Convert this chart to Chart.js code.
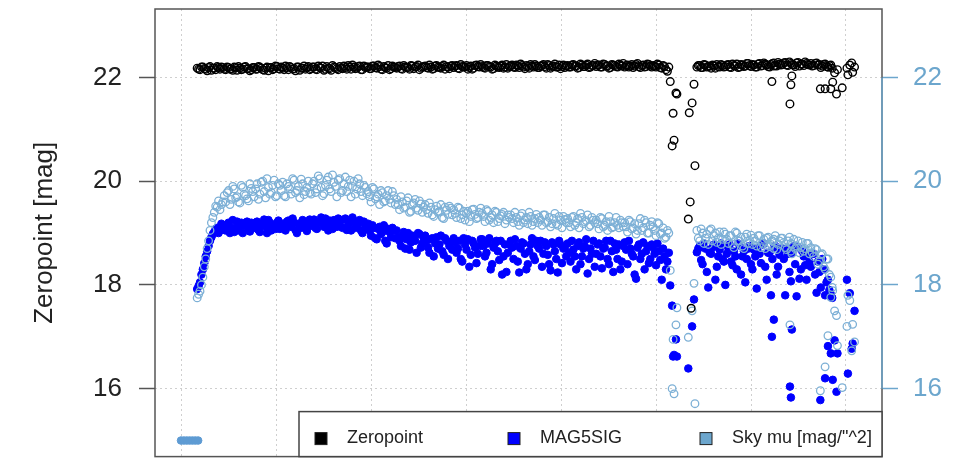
<!DOCTYPE html>
<html>
<head>
<meta charset="utf-8">
<script src="https://cdn.jsdelivr.net/npm/chart.js@4"></script>
<style>
  html, body { margin: 0; padding: 0; background: #fff; overflow: hidden; }
  #wrap { width: 971px; height: 458px; overflow: hidden; }
  #chart { display: block; }
</style>
</head>
<body>
<div id="wrap"><canvas id="chart" width="971" height="462"></canvas></div>
<script>
// observation positions (plot x units)
// blocks: main run, dip, second run, outliers, tail, then the interleaved frames of both runs
const obsX = [
  17,20,23,26,29,32,35,38,41,44, 47,50,53,56,59,62,65,68,71,74,
  77,80,83,86,89,92,95,98,101,104, 107,110,113,116,119,122,125,128,131,134,
  137,140,143,146,149,152,155,158,161,164, 167,170,173,176,179,182,185,188,191,194,
  197,200,203,206,209,212,215,218,221,224, 227,230,233,236,239,242,245,248,251,254,
  257,260,263,266,269,272,275,278,281,284, 287,290,293,296,299,302,305,308,311,314,
  317,320,323,326,329,332,335,338,341,344, 347,350,353,356,359,362,365,368,371,374,
  377,380,383,386,389,392,395,398,401,404, 407,410,413,416,419,422,425,428,431,434,
  437,440,443,446,449,452,455,458,461,464, 467,470,473,476,479,482,485,488,491,494,
  497,500,503,506,509,512,
  515,517,518,519,521,522,534,535,536,537,538,540,541,
  543,546,549,552,555,558,561,564,567,570, 573,576,579,582,585,588,591,594,597,600,
  603,606,609,612,615,618,621,624,627,630, 633,636,639,642,645,648,651,654,657,660,
  663,666,669,672,675,678,681,684,
  622,624,641,642,643,
  673,678,681,684,686,688,690,691,696,701,702,704,706,707,709,
  18.5,21.5,24.5,27.5,30.5,33.5,36.5,39.5,42.5,45.5, 48.5,51.5,54.5,57.5,60.5,63.5,66.5,69.5,72.5,75.5,
  78.5,81.5,84.5,87.5,90.5,93.5,96.5,99.5,102.5,105.5, 108.5,111.5,114.5,117.5,120.5,123.5,126.5,129.5,132.5,135.5,
  138.5,141.5,144.5,147.5,150.5,153.5,156.5,159.5,162.5,165.5, 168.5,171.5,174.5,177.5,180.5,183.5,186.5,189.5,192.5,195.5,
  198.5,201.5,204.5,207.5,210.5,213.5,216.5,219.5,222.5,225.5, 228.5,231.5,234.5,237.5,240.5,243.5,246.5,249.5,252.5,255.5,
  258.5,261.5,264.5,267.5,270.5,273.5,276.5,279.5,282.5,285.5, 288.5,291.5,294.5,297.5,300.5,303.5,306.5,309.5,312.5,315.5,
  318.5,321.5,324.5,327.5,330.5,333.5,336.5,339.5,342.5,345.5, 348.5,351.5,354.5,357.5,360.5,363.5,366.5,369.5,372.5,375.5,
  378.5,381.5,384.5,387.5,390.5,393.5,396.5,399.5,402.5,405.5, 408.5,411.5,414.5,417.5,420.5,423.5,426.5,429.5,432.5,435.5,
  438.5,441.5,444.5,447.5,450.5,453.5,456.5,459.5,462.5,465.5, 468.5,471.5,474.5,477.5,480.5,483.5,486.5,489.5,492.5,495.5,
  498.5,501.5,504.5,507.5,510.5,513.5,
  544.5,547.5,550.5,553.5,556.5,559.5,562.5,565.5,568.5,571.5, 574.5,577.5,580.5,583.5,586.5,589.5,592.5,595.5,598.5,601.5,
  604.5,607.5,610.5,613.5,616.5,619.5,622.5,625.5,628.5,631.5, 634.5,637.5,640.5,643.5,646.5,649.5,652.5,655.5,658.5,661.5,
  664.5,667.5,670.5,673.5,676.5,679.5,682.5,685.5
];

const zeropoint = [
  22.18,22.15,22.2,22.16,22.19,22.14,22.18,22.21,22.16,22.19, 22.15,22.19,22.17,22.2,22.14,22.18,22.16,22.21,22.17,22.15,
  22.19,22.16,22.2,22.15,22.18,22.13,22.19,22.17,22.21,22.16, 22.18,22.22,22.15,22.19,22.17,22.2,22.14,22.18,22.16,22.21,
  22.17,22.2,22.15,22.19,22.22,22.16,22.18,22.14,22.2,22.17, 22.21,22.17,22.19,22.23,22.16,22.2,22.18,22.22,22.15,22.19,
  22.2,22.17,22.22,22.18,22.21,22.15,22.19,22.23,22.17,22.2, 22.18,22.22,22.16,22.2,22.19,22.23,22.17,22.21,22.15,22.2,
  22.22,22.18,22.2,22.17,22.23,22.19,22.21,22.16,22.2,22.22, 22.19,22.23,22.17,22.21,22.2,22.16,22.22,22.18,22.24,22.2,
  22.21,22.18,22.23,22.2,22.17,22.22,22.19,22.24,22.2,22.18, 22.22,22.2,22.24,22.19,22.23,22.17,22.21,22.25,22.2,22.22,
  22.19,22.23,22.21,22.25,22.18,22.22,22.2,22.24,22.21,22.19, 22.23,22.2,22.25,22.22,22.19,22.24,22.21,22.26,22.2,22.23,
  22.21,22.24,22.2,22.25,22.22,22.19,22.24,22.21,22.26,22.22, 22.2,22.24,22.22,22.19,22.25,22.21,22.23,22.2,22.26,22.22,
  22.23,22.2,22.24,22.18,22.21,22.12,
  21.92,20.68,21.31,20.79,21.7,21.68,19.27,21.32,19.6,17.55,21.51,21.87,20.3,
  22.2,22.23,22.19,22.24,22.21,22.18,22.22,22.25,22.2,22.23, 22.21,22.25,22.19,22.23,22.26,22.2,22.24,22.22,22.27,22.21,
  22.24,22.2,22.27,22.23,22.26,22.21,22.25,22.28,22.22,22.26, 22.25,22.29,22.23,22.27,22.24,22.28,22.22,22.26,22.3,22.25,
  22.27,22.23,22.28,22.25,22.22,22.26,22.2,22.24,
  21.92,22.22,21.49,21.86,22.03,
  21.78,21.78,22.2,21.78,21.91,22.09,21.68,22.15,21.8,22.18,22.05,22.24,22.28,22.1,22.2,
  22.16,22.2,22.17,22.13,22.21,22.18,22.15,22.19,22.2,22.16, 22.2,22.16,22.14,22.19,22.21,22.15,22.2,22.17,22.13,22.19,
  22.16,22.21,22.18,22.14,22.2,22.19,22.15,22.22,22.17,22.2, 22.15,22.19,22.21,22.16,22.13,22.2,22.18,22.22,22.19,22.15,
  22.2,22.16,22.22,22.18,22.14,22.21,22.17,22.23,22.19,22.15, 22.18,22.22,22.16,22.2,22.24,22.17,22.21,22.15,22.22,22.2,
  22.17,22.22,22.19,22.24,22.16,22.21,22.18,22.15,22.22,22.19, 22.21,22.17,22.23,22.19,22.16,22.22,22.2,22.24,22.18,22.21,
  22.19,22.24,22.16,22.22,22.2,22.18,22.24,22.21,22.17,22.23, 22.22,22.18,22.25,22.2,22.23,22.19,22.16,22.23,22.21,22.25,
  22.19,22.23,22.21,22.16,22.24,22.2,22.22,22.18,22.25,22.21, 22.24,22.19,22.22,22.26,22.2,22.23,22.18,22.22,22.25,22.19,
  22.22,22.25,22.18,22.23,22.21,22.26,22.2,22.17,22.24,22.22, 22.2,22.24,22.22,22.18,22.26,22.21,22.24,22.19,22.23,22.27,
  22.24,22.2,22.26,22.22,22.18,22.25,22.23,22.2,22.24,22.27, 22.23,22.2,22.25,22.22,22.27,22.19,22.24,22.21,22.25,22.2,
  22.22,22.26,22.19,22.23,22.15,22.2,
  22.23,22.19,22.25,22.2,22.22,22.24,22.18,22.21,22.25,22.2, 22.24,22.2,22.26,22.22,22.19,22.25,22.21,22.27,22.23,22.25,
  22.2,22.26,22.22,22.28,22.24,22.2,22.27,22.23,22.29,22.24, 22.28,22.24,22.3,22.25,22.21,22.29,22.26,22.23,22.27,22.24,
  22.22,22.27,22.24,22.19,22.25,22.21,22.23,22.18
];

const mag5sig = [
  17.92,18.05,18.3,18.55,18.75,18.92,19.02,19.1,19.05,19.15, 19.05,19.2,19.1,19.02,19.22,19.12,19.0,19.18,19.08,19.2,
  19.1,19.22,19.02,19.18,19.12,19.25,19.05,19.16,19.2,19.08, 19.18,19.05,19.24,19.12,19.2,19.0,19.15,19.25,19.1,19.2,
  19.14,19.26,19.08,19.22,19.18,19.28,19.05,19.2,19.25,19.12, 19.24,19.1,19.28,19.15,19.05,19.22,19.12,19.25,19.0,19.15,
  19.18,18.95,19.1,18.88,19.12,19.02,18.85,19.08,18.92,19.05, 19.05,18.85,18.95,18.7,19.0,18.82,18.92,18.62,18.98,18.8,
  18.95,18.72,18.88,18.55,18.92,18.78,18.65,18.9,18.5,18.82, 18.9,18.62,18.85,18.45,18.78,18.88,18.58,18.8,18.42,18.75,
  18.88,18.55,18.8,18.3,18.72,18.85,18.48,18.2,18.78,18.62, 18.85,18.5,18.75,18.24,18.82,18.6,18.4,18.78,18.55,18.85,
  18.7,18.35,18.82,18.58,18.28,18.78,18.5,18.85,18.42,18.72, 18.8,18.45,18.68,18.3,18.82,18.55,18.75,18.22,18.7,18.85,
  18.6,18.8,18.32,18.72,18.5,18.85,18.25,18.68,18.78,18.45, 18.82,18.4,18.7,18.55,18.12,18.78,18.6,18.3,18.75,18.5,
  18.72,18.38,18.65,18.1,18.55,18.45,
  17.99,17.6,16.62,16.65,16.95,16.62,16.39,null,null,null,17.2,17.72,null,
  18.63,18.75,18.4,18.7,17.95,18.6,18.78,18.35,18.68,18.5, 18.0,18.72,18.45,18.65,18.3,18.76,18.55,18.05,18.7,18.4,
  18.68,17.93,18.6,18.78,18.35,18.62,17.8,18.72,18.2,18.58, 18.7,17.8,18.6,18.07,18.75,17.78,18.12,18.65,18.38,18.55,
  18.35,18.6,17.85,18.25,18.5,17.8,18.1,17.82,
  17.0,17.33,16.04,15.83,17.14,
  15.78,16.2,16.82,16.68,16.17,16.93,15.94,16.68,null,18.1,16.29,17.84,16.77,16.87,17.5,
  17.98,18.2,18.42,18.65,18.85,18.98,19.08,19.0,19.18,19.06, 19.15,19.0,19.25,19.1,19.05,19.2,19.14,19.22,19.03,19.16,
  19.2,19.06,19.14,19.26,19.0,19.2,19.12,19.08,19.24,19.15, 19.08,19.22,19.15,19.28,19.06,19.18,19.1,19.22,19.04,19.26,
  19.22,19.1,19.2,19.3,19.12,19.16,19.24,19.08,19.2,19.28, 19.12,19.26,19.06,19.2,19.3,19.1,19.18,19.05,19.22,19.08,
  19.05,19.15,18.9,19.08,18.98,19.15,18.8,19.02,19.1,18.9, 18.92,18.75,19.02,18.88,18.68,18.95,18.85,19.0,18.72,18.9,
  18.85,18.62,18.9,18.8,18.7,18.95,18.58,18.85,18.75,18.68, 18.82,18.7,18.5,18.9,18.68,18.35,18.85,18.72,18.6,18.88,
  18.75,18.62,18.9,18.4,18.8,18.65,18.85,18.55,18.25,18.78, 18.72,18.88,18.45,18.7,18.8,18.3,18.65,18.9,18.48,18.75,
  18.85,18.6,18.75,18.4,18.82,18.65,18.24,18.78,18.7,18.55, 18.62,18.85,18.55,18.75,18.4,18.7,18.88,18.5,18.6,18.35,
  18.78,18.55,18.7,18.85,18.4,18.65,18.8,18.5,18.3,18.75, 18.68,18.85,18.6,18.2,18.72,18.5,18.82,18.65,18.42,18.78,
  18.6,18.8,18.48,18.7,18.3,18.62,
  18.7,18.48,18.8,18.25,18.62,18.72,18.1,18.55,18.8,18.45, 18.6,18.78,18.38,18.55,18.8,18.2,18.65,18.5,18.75,18.3,
  18.55,18.72,18.42,18.8,18.1,18.62,18.5,18.75,18.35,18.68, 18.5,18.7,18.25,18.62,18.4,18.72,18.3,18.55,18.1,18.45,
  18.6,18.2,18.45,17.95,18.3,18.05,17.9,17.75
];

const skyMu = [
  17.75,17.88,18.15,18.5,18.85,19.2,19.4,19.5,19.45,19.6, 19.6,19.82,19.65,19.85,19.7,19.58,19.88,19.72,19.62,19.86,
  19.7,19.95,19.75,20.0,19.68,19.88,19.78,20.02,19.72,19.92, 19.98,19.7,19.9,19.75,20.02,19.82,19.68,19.95,19.8,20.0,
  19.75,20.0,19.85,20.05,19.72,19.92,20.08,19.8,19.98,19.7, 20.05,19.82,20.08,19.9,19.7,20.0,19.85,19.95,19.72,19.88,
  19.8,19.6,19.85,19.7,19.55,19.78,19.62,19.82,19.58,19.72, 19.65,19.45,19.6,19.5,19.68,19.42,19.58,19.48,19.62,19.4,
  19.55,19.38,19.5,19.32,19.52,19.42,19.3,19.5,19.36,19.48, 19.45,19.3,19.48,19.35,19.25,19.42,19.32,19.46,19.28,19.4,
  19.38,19.22,19.42,19.3,19.2,19.4,19.28,19.36,19.18,19.35, 19.35,19.2,19.3,19.15,19.38,19.25,19.18,19.32,19.22,19.36,
  19.3,19.15,19.35,19.22,19.12,19.28,19.18,19.32,19.1,19.26, 19.28,19.12,19.32,19.2,19.1,19.3,19.22,19.35,19.15,19.25,
  19.25,19.08,19.28,19.15,19.05,19.22,19.12,19.3,19.1,19.2, 19.2,19.02,19.22,19.1,18.98,19.18,19.05,19.25,19.0,19.15,
  19.12,18.95,19.18,19.0,18.9,19.05,
  18.28,16.0,16.95,15.9,17.23,17.56,16.99,null,null,null,17.5,18.03,15.71,
  19.05,18.85,19.0,18.9,18.78,19.08,18.95,18.82,19.02,18.88, 18.98,18.8,18.95,18.72,19.0,18.85,18.75,18.92,18.8,18.96,
  18.9,18.75,18.95,18.8,18.7,18.92,18.78,18.88,18.68,18.85, 18.9,18.72,18.85,18.65,18.88,18.75,18.62,18.82,18.7,18.8,
  18.72,18.55,18.68,18.45,18.6,18.3,18.5,18.15,
  18.85,18.7,17.23,18.8,18.6,
  15.96,16.42,17.02,17.76,17.89,17.5,17.41,16.83,16.02,17.2,17.8,17.7,16.73,17.24,16.9,
  17.82,18.0,18.35,18.7,19.05,19.3,19.52,19.62,19.55,19.72, 19.78,19.55,19.9,19.68,19.6,19.92,19.75,19.66,19.95,19.8,
  19.85,19.65,19.98,19.8,20.05,19.75,19.92,19.7,19.95,19.82, 19.72,19.95,19.85,20.05,19.78,19.9,20.04,19.74,19.88,19.78,
  19.95,19.78,20.1,19.88,19.76,20.02,19.85,20.12,19.9,20.02, 19.78,19.95,19.8,20.02,19.9,19.75,20.05,19.8,19.92,19.76,
  19.7,19.88,19.66,19.75,19.82,19.6,19.72,19.65,19.8,19.55, 19.55,19.7,19.48,19.62,19.4,19.55,19.65,19.44,19.56,19.5,
  19.45,19.58,19.35,19.45,19.4,19.55,19.28,19.44,19.52,19.35, 19.38,19.5,19.28,19.42,19.38,19.22,19.45,19.36,19.3,19.48,
  19.32,19.45,19.25,19.35,19.42,19.22,19.33,19.4,19.25,19.3, 19.28,19.4,19.22,19.33,19.2,19.3,19.4,19.15,19.28,19.2,
  19.25,19.35,19.2,19.3,19.18,19.38,19.15,19.25,19.32,19.2, 19.2,19.3,19.15,19.28,19.38,19.18,19.24,19.12,19.3,19.2,
  19.18,19.3,19.12,19.22,19.32,19.1,19.2,19.15,19.25,19.12, 19.12,19.25,19.08,19.18,19.05,19.28,19.1,19.2,19.0,19.22,
  19.05,19.2,18.98,19.1,18.92,19.0,
  18.9,19.08,18.8,18.98,19.05,18.85,19.0,18.9,18.78,19.02, 18.88,18.95,18.78,19.02,18.85,18.92,18.7,18.98,18.86,18.78,
  18.85,18.95,18.72,18.88,18.9,18.74,18.85,18.95,18.78,18.9, 18.82,18.68,18.92,18.78,18.7,18.85,18.72,18.65,18.8,18.6,
  18.62,18.7,18.4,18.58,18.35,18.5,18.2,17.95
];

// short run of sky values sitting at the bottom-left
const floorX = [0, 3, 6, 9, 12, 15, 18];
const floorSky = [15.0, 15.0, 15.0, 15.0, 15.0, 15.0, 15.0];

const yTicks = [16, 18, 20, 22];
const xGrid = [0, 100, 200, 300, 400, 500, 600, 700];
const xMin = -27.4, xMax = 737.9;
const yMin = 14.69, yMax = 23.32;

const seriesLabels = ['Zeropoint', 'MAG5SIG', 'Sky mu [mag/"^2]'];

const FONT = "'Liberation Sans', Arial, Helvetica, sans-serif";
const skyAxis = '#6CA6CD';
const skyPoint = '#7DB0D6';
const legendColors = ['#000000', '#0000ff', '#6CA6CD'];

function pts(values, xs) {
  const out = [];
  values.forEach((v, i) => {
    if (v !== null) out.push({ x: xs[i], y: v });
  });
  return out;
}

// box, right axis line, and the in-plot legend
const framePlugin = {
  id: 'frame',
  afterDraw(chart) {
    const { ctx, chartArea: a, scales } = chart;
    ctx.save();
    ctx.strokeStyle = '#555';
    ctx.lineWidth = 1.5;
    ctx.strokeRect(a.left, a.top, a.right - a.left, a.bottom - a.top);

    const y2 = scales.y2;
    ctx.strokeStyle = skyAxis;
    ctx.beginPath();
    ctx.moveTo(a.right, y2.getPixelForValue(yTicks[0]));
    ctx.lineTo(a.right, y2.getPixelForValue(yTicks[yTicks.length - 1]));
    ctx.stroke();

    const lw = 583, lh = 45;
    const lx = a.right - lw, ly = a.bottom - lh;
    ctx.fillStyle = '#fff';
    ctx.fillRect(lx, ly, lw, lh);
    ctx.strokeStyle = '#444';
    ctx.lineWidth = 1.5;
    ctx.strokeRect(lx, ly, lw, lh);

    const offsets = [16, 209, 401];
    ctx.font = '18px ' + FONT;
    ctx.textBaseline = 'middle';
    seriesLabels.forEach((label, i) => {
      const sx = lx + offsets[i];
      ctx.fillStyle = legendColors[i];
      ctx.fillRect(sx, ly + 21, 12, 12);
      ctx.strokeStyle = '#222';
      ctx.lineWidth = 1;
      ctx.strokeRect(sx, ly + 21, 12, 12);
      ctx.fillStyle = '#222';
      ctx.fillText(label, sx + 32, ly + 26);
    });
    ctx.restore();
  }
};

const setTicks = list => scale => { scale.ticks = list.map(v => ({ value: v })); };

new Chart(document.getElementById('chart'), {
  type: 'scatter',
  data: {
    datasets: [
      {
        label: seriesLabels[0],
        data: pts(zeropoint, obsX),
        pointRadius: 3.8,
        borderColor: '#000',
        backgroundColor: 'rgba(0,0,0,0)',
        borderWidth: 1.4,
        order: 0
      },
      {
        label: seriesLabels[1],
        data: pts(mag5sig, obsX),
        pointRadius: 3.8,
        borderColor: '#0000ff',
        backgroundColor: '#0000ff',
        borderWidth: 1,
        order: 2
      },
      {
        label: seriesLabels[2],
        data: pts(skyMu, obsX),
        pointRadius: 3.8,
        borderColor: skyPoint,
        backgroundColor: 'rgba(255,255,255,0)',
        borderWidth: 1.3,
        order: 1
      },
      {
        label: 'floor',
        data: pts(floorSky, floorX),
        pointRadius: 3.8,
        borderColor: '#5E9BD3',
        backgroundColor: '#5E9BD3',
        borderWidth: 1,
        order: 3
      }
    ]
  },
  options: {
    responsive: false,
    animation: false,
    layout: { padding: { top: 9, bottom: 0, left: 0, right: 0 } },
    plugins: { legend: { display: false }, tooltip: { enabled: false } },
    scales: {
      x: {
        type: 'linear',
        min: xMin,
        max: xMax,
        afterBuildTicks: setTicks(xGrid),
        ticks: { display: false },
        grid: { color: '#cfcfcf', drawTicks: false },
        border: { display: false, dash: [2, 3] },
        afterFit: s => { s.height = 0; s.paddingLeft = 0; s.paddingRight = 0; }
      },
      y: {
        position: 'left',
        min: yMin,
        max: yMax,
        afterBuildTicks: setTicks(yTicks),
        ticks: { font: { family: FONT, size: 26 }, color: '#222', padding: 17 },
        grid: { color: '#cfcfcf', tickColor: '#555', tickLength: 16, tickWidth: 1.5 },
        border: { display: false, dash: [2, 3] },
        title: {
          display: true,
          text: 'Zeropoint [mag]',
          font: { family: FONT, size: 26 },
          color: '#222',
          padding: { top: 29, bottom: 0 }
        },
        afterFit: s => { s.width = 155; s.paddingTop = 0; s.paddingBottom = 0; }
      },
      y2: {
        position: 'right',
        min: yMin,
        max: yMax,
        afterBuildTicks: setTicks(yTicks),
        ticks: { font: { family: FONT, size: 26 }, color: skyAxis, padding: 15 },
        grid: { drawOnChartArea: false, tickColor: skyAxis, tickLength: 16, tickWidth: 1.5 },
        border: { display: false },
        afterFit: s => { s.width = 89; s.paddingTop = 0; s.paddingBottom = 0; }
      }
    }
  },
  plugins: [framePlugin]
});
</script>
</body>
</html>
